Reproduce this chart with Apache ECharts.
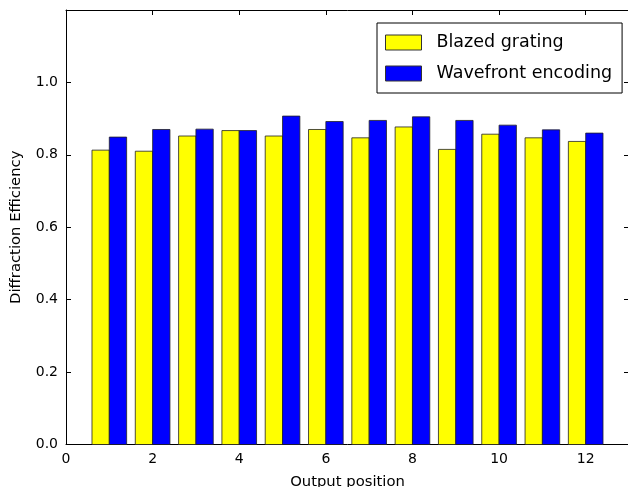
<!DOCTYPE html>
<html>
<head>
<meta charset="utf-8">
<script src="https://cdn.jsdelivr.net/npm/echarts@6/dist/echarts.min.js"></script>
<style>
  html, body { margin: 0; padding: 0; background: #fff; }
  #chart { width: 628px; height: 487px; }
</style>
</head>
<body>
<div id="chart"></div>
<script>
// Output positions and the measured diffraction efficiency for each method
const positions = [1, 2, 3, 4, 5, 6, 7, 8, 9, 10, 11, 12];
const blazedGrating = [0.813, 0.810, 0.852, 0.867, 0.852, 0.870, 0.847, 0.877, 0.815, 0.857, 0.847, 0.837];
const wavefrontEncoding = [0.849, 0.870, 0.871, 0.867, 0.907, 0.892, 0.895, 0.905, 0.895, 0.882, 0.869, 0.860];
const seriesNames = ['Blazed grating', 'Wavefront encoding'];
const xTicks = [0, 2, 4, 6, 8, 10, 12];
const yTicks = [0.0, 0.2, 0.4, 0.6, 0.8, 1.0];

const BAR_W = 0.4;
const FONT = '"DejaVu Sans", sans-serif';

// Each bar spans [x + offset, x + offset + BAR_W] in data units
function barRenderer(offset) {
  return function (params, api) {
    const x = api.value(0), y = api.value(1);
    const p0 = api.coord([x + offset, y]);
    const p1 = api.coord([x + offset + BAR_W, 0]);
    return {
      type: 'rect',
      shape: { x: p0[0], y: p0[1], width: p1[0] - p0[0], height: p1[1] - p0[1] },
      style: { fill: api.visual('color'), stroke: '#222', lineWidth: 0.8 }
    };
  };
}

const chart = echarts.init(document.getElementById('chart'), null, { renderer: 'canvas' });

const tickInside = { show: true, inside: true, length: 5, lineStyle: { color: '#000', width: 1 } };
const axisLine = { show: true, onZero: false, lineStyle: { color: '#000', width: 1 } };
const labelStyle = { color: '#000', fontSize: 14, fontFamily: FONT };
const nameStyle = { color: '#000', fontSize: 14.8, fontFamily: FONT };

chart.setOption({
  animation: false,
  backgroundColor: '#fff',
  // the plot frame runs slightly past the right and bottom edges of the page
  grid: { left: 66, right: -1, top: 10, bottom: 42.5, containLabel: false, outerBoundsMode: 'none' },
  legend: {
    orient: 'vertical',
    left: 377,
    top: 23,
    padding: [10, 10, 10, 8],
    itemWidth: 36,
    itemHeight: 15,
    itemGap: 12,
    backgroundColor: '#fff',
    borderColor: '#000',
    borderWidth: 1,
    borderRadius: 0,
    z: 10,
    textStyle: { color: '#000', fontSize: 17.5, fontFamily: FONT, padding: [0, 0, 0, 10], lineHeight: 19 },
    data: seriesNames.map(n => ({ name: n, icon: 'rect', itemStyle: { borderColor: '#333', borderWidth: 1 } }))
  },
  xAxis: [
    {
      type: 'value', min: 0, max: 13, interval: 2, position: 'bottom',
      name: 'Output position', nameLocation: 'middle', nameGap: 30,
      nameTextStyle: nameStyle,
      axisLine: axisLine, axisTick: tickInside,
      axisLabel: Object.assign({ margin: 8, showMaxLabel: false,
        formatter: v => (xTicks.includes(v) ? String(v) : '') }, labelStyle),
      splitLine: { show: false }
    },
    {
      type: 'value', min: 0, max: 13, interval: 2, position: 'top',
      axisLine: axisLine, axisTick: tickInside, axisLabel: { show: false },
      splitLine: { show: false }
    }
  ],
  yAxis: [
    {
      type: 'value', min: 0, max: 1.2, interval: 0.2, position: 'left',
      name: 'Diffraction Efficiency', nameLocation: 'middle', nameGap: 42,
      nameTextStyle: nameStyle,
      axisLine: axisLine, axisTick: tickInside,
      axisLabel: Object.assign({ margin: 8,
        formatter: v => (yTicks.some(t => Math.abs(t - v) < 1e-9) ? v.toFixed(1) : '') }, labelStyle),
      splitLine: { show: false }
    },
    {
      type: 'value', min: 0, max: 1.2, interval: 0.2, position: 'right',
      axisLine: axisLine, axisTick: tickInside, axisLabel: { show: false },
      splitLine: { show: false }
    }
  ],
  series: [
    {
      name: seriesNames[0], type: 'custom', xAxisIndex: 0, yAxisIndex: 0,
      itemStyle: { color: '#ffff00' },
      renderItem: barRenderer(-BAR_W),
      encode: { x: 0, y: 1 },
      data: positions.map((p, i) => [p, blazedGrating[i]])
    },
    {
      name: seriesNames[1], type: 'custom', xAxisIndex: 0, yAxisIndex: 0,
      itemStyle: { color: '#0000ff' },
      renderItem: barRenderer(0),
      encode: { x: 0, y: 1 },
      data: positions.map((p, i) => [p, wavefrontEncoding[i]])
    }
  ]
});
</script>
</body>
</html>
